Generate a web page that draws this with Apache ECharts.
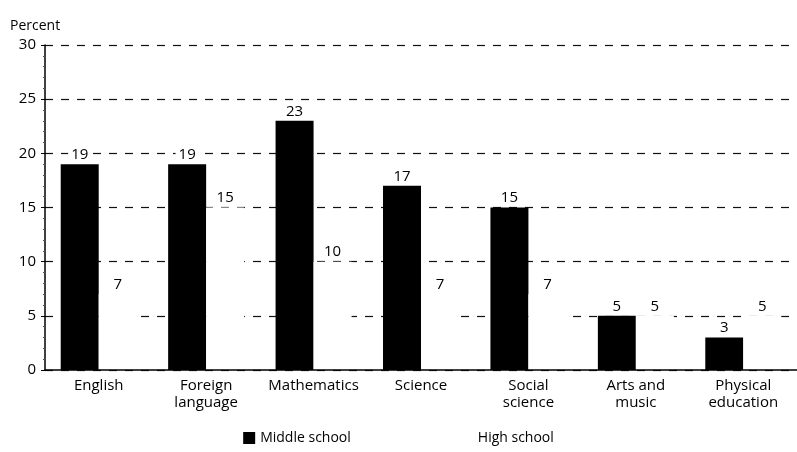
<!DOCTYPE html>
<html>
<head>
<meta charset="utf-8">
<script src="https://cdn.jsdelivr.net/npm/echarts@6/dist/echarts.min.js"></script>
<style>
html,body{margin:0;padding:0;background:#fff;}
#chart{width:797px;height:452px;}
</style>
</head>
<body>
<div id="chart"></div>
<script>
const categories = ["English", "Foreign\nlanguage", "Mathematics", "Science", "Social\nscience", "Arts and\nmusic", "Physical\neducation"];
const middleSchool = [19, 19, 23, 17, 15, 5, 3];
const highSchool = [7, 15, 10, 7, 7, 5, 5];
const yTicks = [0, 5, 10, 15, 20, 25, 30];

const FONT = "Open Sans";
const chart = echarts.init(document.getElementById('chart'), null, {renderer: 'canvas'});
const labelStyle = {show: true, position: 'top', distance: 2, fontFamily: FONT, fontSize: 15, color: '#000',
  backgroundColor: '#fff', padding: [0, 3, 0, 3]};
chart.setOption({
  animation: false,
  backgroundColor: '#ffffff',
  textStyle: {fontFamily: FONT, color: '#000'},
  grid: {left: 45, top: 45, width: 762, height: 325, containLabel: false},
  legend: {
    bottom: 2,
    left: 'center',
    itemGap: 110,
    itemWidth: 12,
    itemHeight: 12,
    icon: 'rect',
    textStyle: {fontFamily: FONT, fontSize: 14, color: '#000'},
    data: [
      {name: 'Middle school', itemStyle: {color: '#000'}},
      {name: 'High school', itemStyle: {color: '#fff'}}
    ]
  },
  xAxis: {
    type: 'category',
    data: categories,
    z: 5,
    axisLine: {lineStyle: {color: '#000', width: 1.5}},
    axisTick: {show: false},
    axisLabel: {fontFamily: FONT, fontSize: 15, color: '#000', lineHeight: 17, margin: 7, interval: 0}
  },
  yAxis: {
    type: 'value',
    min: 0,
    max: 30,
    interval: 5,
    name: 'Percent',
    nameLocation: 'end',
    nameGap: 12,
    nameTextStyle: {fontFamily: FONT, fontSize: 14, color: '#000', align: 'left', padding: [0, 0, 0, -35]},
    axisLine: {show: true, lineStyle: {color: '#000', width: 1.5}},
    axisTick: {show: true, length: 4, inside: false, lineStyle: {color: '#000'}},
    minorTick: {show: true, splitNumber: 5, length: 2, lineStyle: {color: '#555'}},
    axisLabel: {fontFamily: FONT, fontSize: 15, color: '#000', margin: 9,
      formatter: v => yTicks.includes(v) ? String(v) : ''},
    splitLine: {show: true, lineStyle: {color: '#111', type: [8, 8], width: 1.2}}
  },
  series: [
    {
      name: 'Middle school',
      type: 'bar',
      data: middleSchool,
      barWidth: 38,
      barGap: '0%',
      itemStyle: {color: '#000'},
      label: labelStyle
    },
    {
      name: 'High school',
      type: 'bar',
      data: highSchool,
      barWidth: 38,
      barGap: '0%',
      itemStyle: {color: '#fff'},
      label: labelStyle
    }
  ]
});
</script>
</body>
</html>
